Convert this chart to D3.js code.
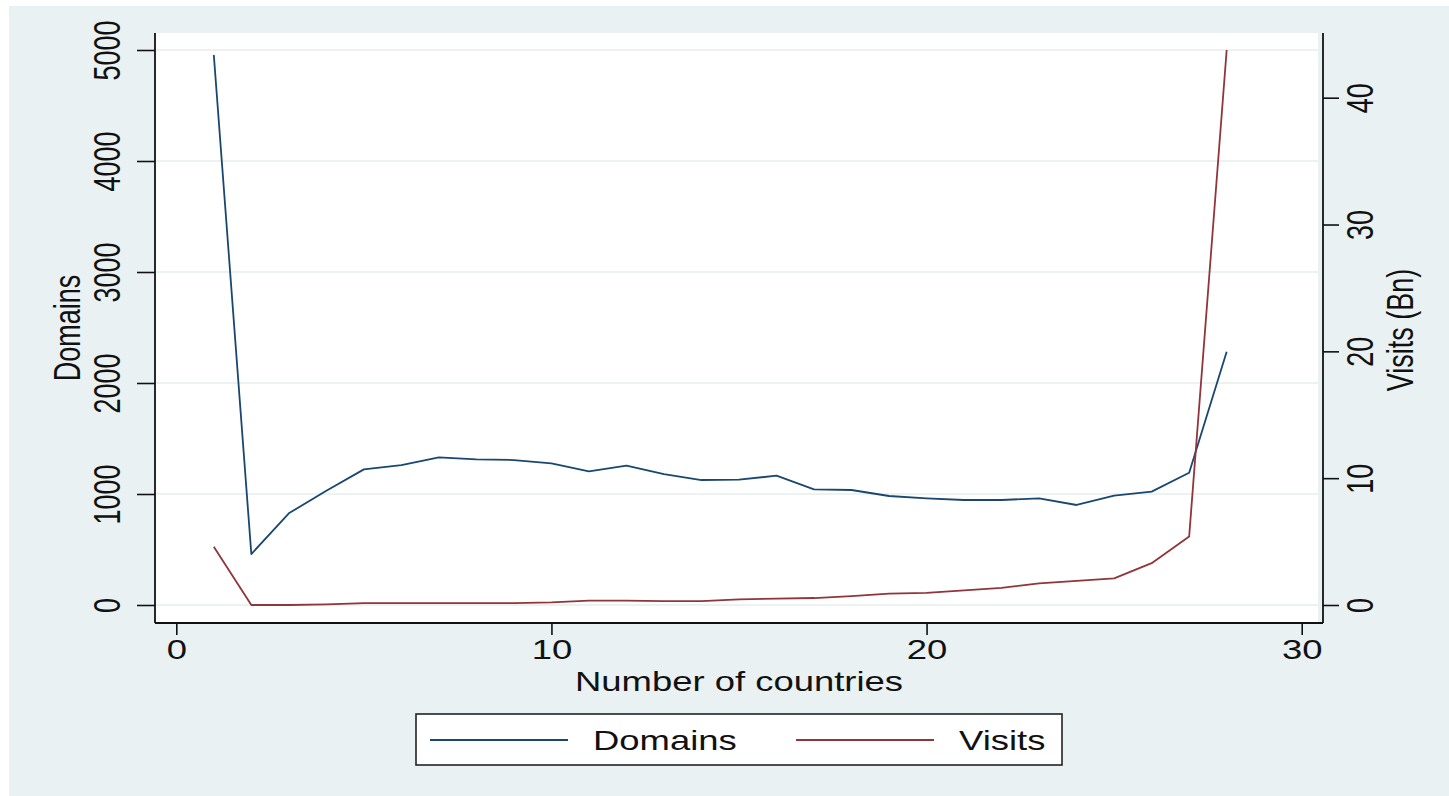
<!DOCTYPE html>
<html>
<head>
<meta charset="utf-8">
<script src="https://cdn.jsdelivr.net/npm/d3@7"></script>
<style>
    body { margin: 0; background: #fff; }
    svg { display: block; }
    text { font-family: "Liberation Sans", Arial, sans-serif; fill: #111; }
</style>
</head>
<body>
<svg id="chart" width="1449" height="796"></svg>
<script>
// number of countries (x) and the two series
const countries = [1, 2, 3, 4, 5, 6, 7, 8, 9, 10, 11, 12, 13, 14, 15, 16, 17, 18, 19, 20, 21, 22, 23, 24, 25, 26, 27, 28];
const domains = [4955, 459, 826, 1030, 1222, 1261, 1330, 1312, 1306, 1276, 1204, 1255, 1180, 1126, 1129, 1165, 1042, 1036, 982, 961, 946, 946, 961, 901, 985, 1021, 1192, 2282];
const visits = [4.6, 0.0, 0.0, 0.05, 0.15, 0.15, 0.15, 0.15, 0.15, 0.2, 0.35, 0.35, 0.3, 0.3, 0.45, 0.5, 0.55, 0.7, 0.9, 0.95, 1.15, 1.35, 1.7, 1.9, 2.1, 3.3, 5.4, 43.76];

const xTicks = [0, 10, 20, 30];
const leftTicks = [0, 1000, 2000, 3000, 4000, 5000];
const rightTicks = [0, 10, 20, 30, 40];
const seriesNames = ["Domains", "Visits"];
const colors = d3.scaleOrdinal(seriesNames, ["#1a476f", "#90353b"]);

// the picture is stretched sideways, text gets the same stretch
const SX = 1.35;

const svg = d3.select("#chart");
const svgW = +svg.attr("width");
const svgH = +svg.attr("height");

const plot = { left: 155, right: 1323, top: 33, bottom: 623 };

const scales = {
    x: d3.scaleLinear([0, 30], [176.3, 1301.7]),
    yL: d3.scaleLinear([0, 5000], [605, 50]),
    yR: d3.scaleLinear([0, d3.max(visits)], [605, 50])
};

// graph region
svg.append("rect").attr("x", 0).attr("y", 0).attr("width", svgW).attr("height", svgH).attr("fill", "#fff");
svg.append("rect").attr("x", 9).attr("y", 6).attr("width", svgW - 9).attr("height", svgH - 6).attr("fill", "#eaf1f3");

// plot region
svg.append("rect")
    .attr("x", plot.left).attr("y", plot.top)
    .attr("width", plot.right - 5 - plot.left).attr("height", plot.bottom - plot.top)
    .attr("fill", "#fff");

// grid
svg.append("g").selectAll("line").data(leftTicks).join("line")
    .attr("x1", plot.left).attr("x2", plot.right - 5)
    .attr("y1", d => scales.yL(d)).attr("y2", d => scales.yL(d))
    .attr("stroke", "#e6ecee").attr("stroke-width", 1.5);

// lines
const lineL = d3.line().x((d, i) => scales.x(countries[i])).y(d => scales.yL(d));
const lineR = d3.line().x((d, i) => scales.x(countries[i])).y(d => scales.yR(d));

svg.append("path").datum(domains)
    .attr("d", lineL).attr("fill", "none")
    .attr("stroke", colors("Domains")).attr("stroke-width", 1.8).attr("stroke-linejoin", "round");

svg.append("path").datum(visits)
    .attr("d", lineR).attr("fill", "none")
    .attr("stroke", colors("Visits")).attr("stroke-width", 1.8).attr("stroke-linejoin", "round");

// axes
const styleAxis = (g) => {
    g.select(".domain").remove();
    g.selectAll(".tick line").attr("stroke", "#111").attr("stroke-width", 1.6);
    g.selectAll(".tick text")
        .attr("x", null).attr("y", null).attr("dy", null)
        .attr("text-anchor", "middle")
        .style("font-size", "27px");
};

const gLeft = svg.append("g").attr("transform", `translate(${plot.left}, 0)`)
    .call(d3.axisLeft(scales.yL).tickValues(leftTicks).tickSize(18).tickFormat(d3.format("d")))
    .call(styleAxis);
gLeft.selectAll(".tick text").attr("transform", `translate(-35, 0) scale(${SX}, 1) rotate(-90)`);

const gRight = svg.append("g").attr("transform", `translate(${plot.right}, 0)`)
    .call(d3.axisRight(scales.yR).tickValues(rightTicks).tickSize(16).tickFormat(d3.format("d")))
    .call(styleAxis);
gRight.selectAll(".tick text").attr("transform", `translate(50, 0) scale(${SX}, 1) rotate(-90)`);

const gBottom = svg.append("g").attr("transform", `translate(0, ${plot.bottom})`)
    .call(d3.axisBottom(scales.x).tickValues(xTicks).tickSize(12).tickFormat(d3.format("d")))
    .call(styleAxis);
gBottom.selectAll(".tick text").attr("transform", `translate(0, 36) scale(${SX}, 1)`);

// axis lines
const axisLines = [
    [plot.left, plot.top, plot.left, plot.bottom],
    [plot.right, plot.top, plot.right, plot.bottom],
    [plot.left, plot.bottom, plot.right, plot.bottom]
];
svg.append("g").selectAll("line").data(axisLines).join("line")
    .attr("x1", d => d[0]).attr("y1", d => d[1]).attr("x2", d => d[2]).attr("y2", d => d[3])
    .attr("stroke", "#111").attr("stroke-width", 1.8);

// titles
const title = (txt, x, y, rot) => {
    svg.append("text")
        .attr("transform", `translate(${x}, ${y}) scale(${SX}, 1)` + (rot ? " rotate(-90)" : ""))
        .attr("text-anchor", "middle")
        .style("font-size", "27px")
        .text(txt);
};
title("Domains", 80, 328, true);
title("Visits (Bn)", 1413, 330, true);
title("Number of countries", (plot.left + plot.right) / 2, 691, false);

// legend
const legend = svg.append("g");
legend.append("rect")
    .attr("x", 416).attr("y", 714).attr("width", 646).attr("height", 51)
    .attr("fill", "#fff").attr("stroke", "#222").attr("stroke-width", 1.6);

const legendX = [430, 796];
seriesNames.forEach((name, i) => {
    legend.append("line")
        .attr("x1", legendX[i]).attr("x2", legendX[i] + 138)
        .attr("y1", 740).attr("y2", 740)
        .attr("stroke", colors(name)).attr("stroke-width", 1.8);
    legend.append("text")
        .attr("transform", `translate(${legendX[i] + 163}, 750) scale(${SX}, 1)`)
        .style("font-size", "27px")
        .text(name);
});
</script>
</body>
</html>
